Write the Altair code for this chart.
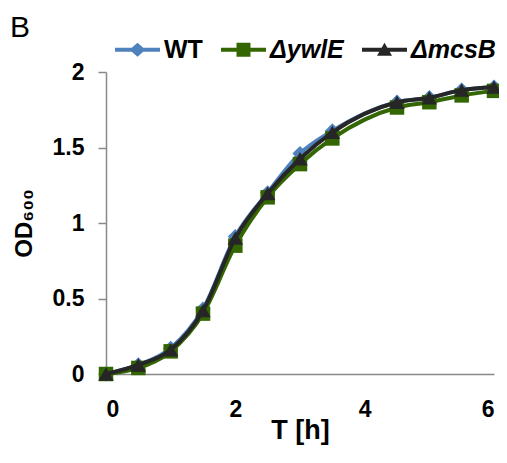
import altair as alt
import pandas as pd

panel_label = ["B"]
hours = [0, 0.5, 1, 1.5, 2, 2.5, 3, 3.5, 4.5, 5, 5.5, 6]
wt = [0.0, 0.06, 0.17, 0.43, 0.91, 1.20, 1.46, 1.61, 1.80, 1.83, 1.88, 1.90]
ywle = [0.0, 0.04, 0.15, 0.40, 0.85, 1.17, 1.39, 1.56, 1.765, 1.80, 1.845, 1.875]
mcsb = [0.0, 0.06, 0.16, 0.42, 0.90, 1.195, 1.425, 1.60, 1.80, 1.83, 1.88, 1.90]

series_names = ["WT", "\u0394ywlE", "\u0394mcsB"]
series_colors = ["#4F81BD", "#336600", "#262626"]
point_shapes = ["diamond", "square", "triangle-up"]
point_sizes = [230, 210, 240]
x_ticks = [0, 2, 4, 6]
y_ticks = [0, 0.5, 1, 1.5, 2]

# legend symbols (unit = 7.5 px): a line segment with the marker on it
bar = "M-3,-0.27H3V0.27H-3Z"
legend_paths = [
    bar + "M0,-0.93L1.07,0L0,0.93L-1.07,0Z",
    bar + "M-0.93,-0.93H0.93V0.93H-0.93Z",
    bar + "M0,-0.93L1.0,0.8L-1.0,0.8Z",
]

rows = []
for name, vals in zip(series_names, [wt, ywle, mcsb]):
    for h, v in zip(hours, vals):
        rows.append({"T": h, "OD": v, "series": name})
df = pd.DataFrame(rows)

FONT = "Liberation Sans"

x_enc = alt.X(
    "T:Q",
    scale=alt.Scale(domain=[0, 6]),
    axis=alt.Axis(values=x_ticks, title="T [h]", ticks=False, tickSize=0,
                  labelPadding=24, titlePadding=-4, format="~g"),
)
y_enc = alt.Y(
    "OD:Q",
    scale=alt.Scale(domain=[0, 2]),
    axis=alt.Axis(values=y_ticks, title="OD\u2086\u2080\u2080", tickSize=8,
                  labelPadding=14, titleX=-75, titleBaseline="alphabetic",
                  titleFontSize=24, format="~g"),
)

layers = []
for name, col, shp, sz in zip(series_names, series_colors, point_shapes, point_sizes):
    base = alt.Chart(df).transform_filter(alt.datum.series == name)
    layers.append(
        base.mark_line(color=col, strokeWidth=4, interpolate="monotone").encode(x=x_enc, y=y_enc)
    )
    layers.append(
        base.mark_point(color=col, filled=True, opacity=1, shape=shp, size=sz).encode(x=x_enc, y=y_enc)
    )

legend_layer = (
    alt.Chart(df)
    .transform_filter("false")
    .mark_point(filled=True, opacity=1)
    .encode(
        color=alt.Color("series:N", scale=alt.Scale(domain=series_names, range=series_colors),
                        legend=alt.Legend(title=None)),
        shape=alt.Shape("series:N", scale=alt.Scale(domain=series_names, range=legend_paths),
                        legend=alt.Legend(title=None)),
    )
)
layers.append(legend_layer)

label_layer = (
    alt.Chart(pd.DataFrame({"label": panel_label}))
    .mark_text(font=FONT, fontSize=30, fontWeight="normal", color="black",
               align="left", baseline="alphabetic")
    .encode(text="label:N", x=alt.value(-96), y=alt.value(-35))
)
layers.append(label_layer)

chart = (
    alt.layer(*layers)
    .properties(
        width=388,
        height=302,
        autosize=alt.AutoSizeParams(type="none"),
        padding={"left": 98, "top": 64, "right": 5, "bottom": 76},
        background="white",
    )
    .configure_view(stroke=None)
    .configure_axis(
        grid=False,
        domainColor="#898989",
        domainWidth=1.5,
        tickColor="#898989",
        tickWidth=1.5,
        labelFont=FONT,
        labelFontSize=23,
        labelFontWeight="bold",
        labelColor="black",
        titleFont=FONT,
        titleFontSize=27,
        titleFontWeight="bold",
        titleColor="black",
    )
    .configure_legend(
        orient="none",
        legendX=19,
        legendY=-35,
        direction="horizontal",
        symbolSize=225,
        symbolStrokeWidth=0,
        labelOffset=14,
        columnPadding=18,
        labelFont=FONT,
        labelFontSize=25,
        labelFontWeight="bold",
        labelColor="black",
        labelFontStyle=alt.ExprRef("datum.value == 'WT' ? 'normal' : 'italic'"),
    )
)

chart.save("out.html", embed_options={"renderer": "svg", "actions": False})
